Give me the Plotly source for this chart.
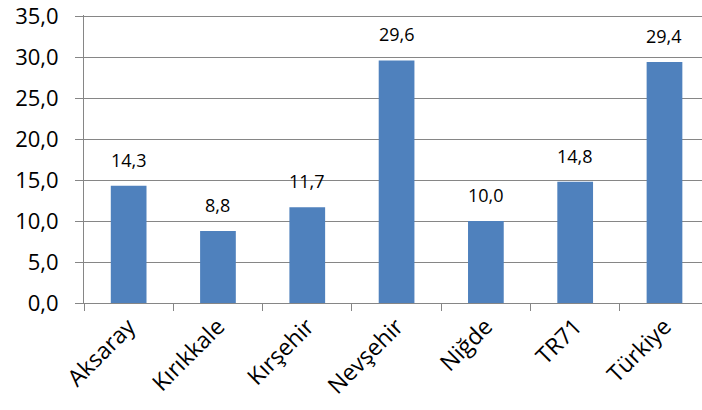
import plotly.graph_objects as go

categories = ["Aksaray", "Kırıkkale", "Kırşehir", "Nevşehir", "Niğde", "TR71", "Türkiye"]
values = [14.3, 8.8, 11.7, 29.6, 10.0, 14.8, 29.4]
y_ticks = [0, 5, 10, 15, 20, 25, 30, 35]

FONT = "Open Sans"
fig = go.Figure()
fig.add_trace(go.Bar(x=categories, y=values, marker=dict(color="#4F81BD", line=dict(width=0)),
                     width=0.4))
for c, v in zip(categories, values):
    fig.add_annotation(x=c, y=v, text=f"{v:.1f}".replace(".", ","), showarrow=False,
                       yanchor="bottom", yshift=12,
                       font=dict(family=FONT, size=18, color="#000000"))

fig.update_layout(
    width=702, height=410,
    margin=dict(l=84, r=0, t=15, b=107),
    paper_bgcolor="white", plot_bgcolor="white",
    separators=",.",
    showlegend=False,
    font=dict(family=FONT, size=20, color="#000000"),
)
fig.update_xaxes(
    type="category", range=[-0.5, 6.42], automargin=False,
    tickson="boundaries", ticks="outside", ticklen=7, tickcolor="#868686",
    showline=True, linecolor="#868686", linewidth=1, showgrid=False,
    tickangle=-45, tickfont=dict(family=FONT, size=23),
)
fig.update_yaxes(
    range=[0, 35.15], tickvals=y_ticks, tickformat=".1f", automargin=False,
    ticks="outside", ticklen=8, tickcolor="#868686",
    showline=True, linecolor="#868686", linewidth=1,
    showgrid=True, gridcolor="#868686", gridwidth=1, zeroline=False,
    ticklabelstandoff=12, ticklabeloverflow="allow",
    tickfont=dict(family=FONT, size=22),
)
fig.write_html("out.html", post_script="document.body.style.margin='0';",
               config={"displayModeBar": False})
